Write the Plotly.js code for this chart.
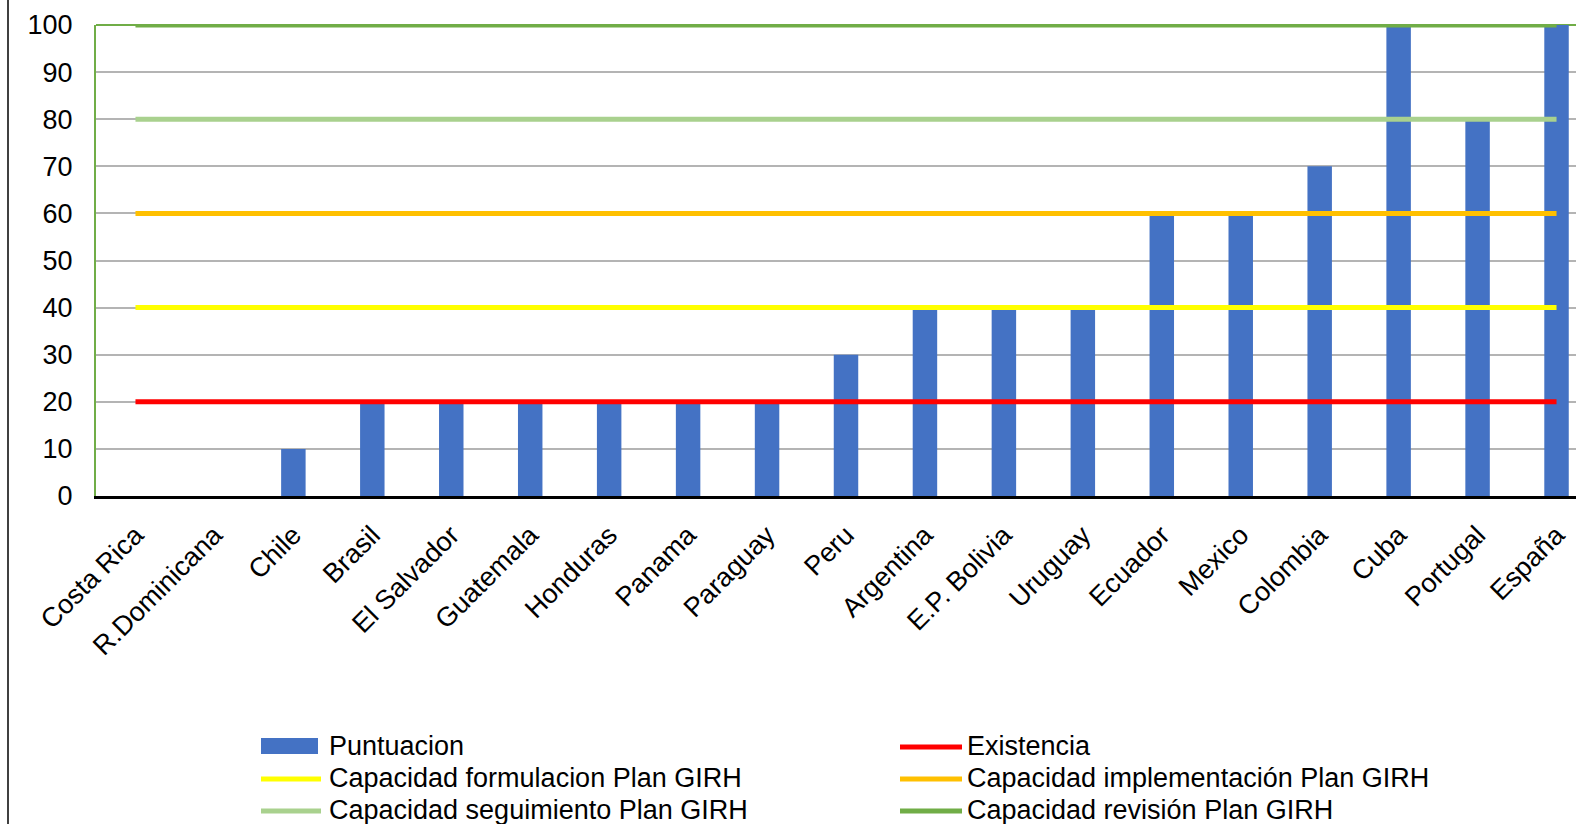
<!DOCTYPE html>
<html>
<head>
<meta charset="utf-8">
<script src="https://cdn.plot.ly/plotly-3.0.1.min.js"></script>
<style>
html,body{margin:0;padding:0;overflow:hidden;background:#fff;}
#chart{width:1600px;height:824px;}
</style>
</head>
<body>
<div id="chart"></div>
<script>
// ---- data ----
const countries = ["Costa Rica","R.Dominicana","Chile","Brasil","El Salvador","Guatemala","Honduras","Panama","Paraguay","Peru","Argentina","E.P. Bolivia","Uruguay","Ecuador","Mexico","Colombia","Cuba","Portugal","España"];
const puntuacion = [0,0,10,20,20,20,20,20,20,30,40,40,40,60,60,70,100,80,100];
const levelNames = ["Existencia","Capacidad formulacion Plan GIRH","Capacidad implementación Plan GIRH","Capacidad seguimiento Plan GIRH","Capacidad revisión Plan GIRH"];
const levelValues = [20,40,60,80,100];
const levelColors = ["#FF0000","#FFFF00","#FFC000","#A9D18E","#70AD47"];
const barName = "Puntuacion";
const barColor = "#4472C4";
const yTicks = [0,10,20,30,40,50,60,70,80,90,100];

// ---- geometry (pixels) ----
const W = 1600, H = 824, ML = 96, MR = 4, MT = 25, MB = 328;
const PW = W - ML - MR, PH = H - MT - MB;
const px = x => (x - ML) / PW;
const py = y => (H - MB - y) / PH;
const FONT = "Liberation Sans, Arial, sans-serif";
const FS = 27;

const traces = [{
  type: "bar", name: barName, x: countries, y: puntuacion,
  marker: {color: barColor, line: {width: 0}},
  width: 0.31, showlegend: false, hoverinfo: "x+y"
}];
levelValues.forEach((v, i) => {
  traces.push({
    type: "scatter", mode: "lines", name: levelNames[i],
    x: countries, y: countries.map(() => v),
    line: {color: levelColors[i], width: 5}, showlegend: false
  });
});

// ---- custom legend (two columns x three rows) ----
const legendOrder = [
  {name: barName, color: barColor, bar: true},
  {name: levelNames[0], color: levelColors[0]},
  {name: levelNames[1], color: levelColors[1]},
  {name: levelNames[2], color: levelColors[2]},
  {name: levelNames[3], color: levelColors[3]},
  {name: levelNames[4], color: levelColors[4]}
];
const colSym = [[261, 321], [900, 962]];
const colText = [327, 965];
const rowY = [746, 778, 810];
const shapes = [
  {type: "line", xref: "paper", yref: "paper", x0: 0, x1: 1, y0: 1, y1: 1, line: {color: "#70AD47", width: 2}, layer: "below"},
  {type: "line", xref: "paper", yref: "paper", x0: px(8), x1: px(8), y0: py(0), y1: py(824), line: {color: "#000000", width: 1.5}}
];
const annotations = [];
legendOrder.forEach((e, k) => {
  const c = k % 2, r = Math.floor(k / 2);
  const [a, b] = colSym[c];
  if (e.bar) {
    shapes.push({type: "rect", xref: "paper", yref: "paper", x0: px(a), x1: px(b - 3), y0: py(rowY[r] - 8), y1: py(rowY[r] + 8), fillcolor: e.color, line: {width: 0}});
  } else {
    shapes.push({type: "line", xref: "paper", yref: "paper", x0: px(a), x1: px(b), y0: py(rowY[r] + 1), y1: py(rowY[r] + 1), line: {color: e.color, width: 5}});
  }
  annotations.push({xref: "paper", yref: "paper", x: px(colText[c]), y: py(rowY[r]), xanchor: "left", yanchor: "middle", text: e.name, showarrow: false, font: {family: FONT, size: FS, color: "#000"}});
});

const layout = {
  width: W, height: H,
  margin: {l: ML, r: MR, t: MT, b: MB, pad: 0},
  paper_bgcolor: "#fff", plot_bgcolor: "#fff",
  font: {family: FONT, size: FS, color: "#000"},
  showlegend: false,
  xaxis: {
    type: "category", tickangle: -45, showgrid: false,
    showline: true, linecolor: "#000", linewidth: 2.5,
    ticks: "", ticklabelstandoff: 10,
    tickfont: {family: FONT, size: FS, color: "#000"}, zeroline: false
  },
  yaxis: {
    range: [0, 100], tickvals: yTicks, ticktext: yTicks.map(String),
    showgrid: true, gridcolor: "#B4B4B4", gridwidth: 2,
    showline: true, linecolor: "#70AD47", linewidth: 2,
    ticks: "", ticklabelstandoff: 16, zeroline: false,
    tickfont: {family: FONT, size: FS, color: "#000"}
  },
  bargap: 0.69,
  shapes: shapes, annotations: annotations
};

Plotly.newPlot("chart", traces, layout, {displayModeBar: false, staticPlot: true});
</script>
</body>
</html>
